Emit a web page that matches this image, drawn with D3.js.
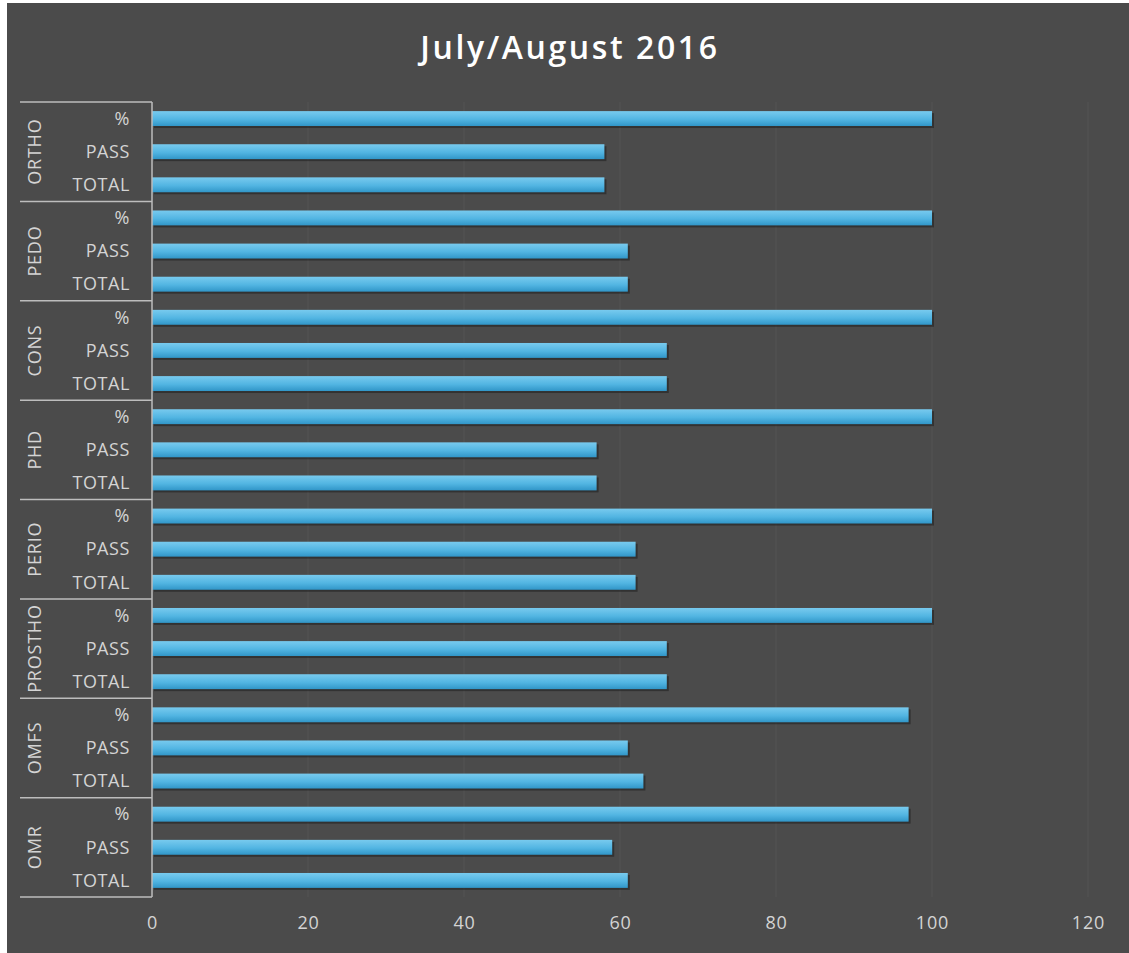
<!DOCTYPE html>
<html>
<head>
<meta charset="utf-8">
<script src="https://cdn.jsdelivr.net/npm/d3@7"></script>
<style>
  html, body { margin: 0; padding: 0; background: #fff; }
  svg { display: block; }
</style>
</head>
<body>
<svg id="chart"></svg>
<script>
var groups = ["ORTHO", "PEDO", "CONS", "PHD", "PERIO", "PROSTHO", "OMFS", "OMR"];
var metrics = ["%", "PASS", "TOTAL"];
var pctValues = [100, 100, 100, 100, 100, 100, 97, 97];
var passValues = [58, 61, 66, 57, 62, 66, 61, 59];
var totalValues = [58, 61, 66, 57, 62, 66, 63, 61];
var xTicks = [0, 20, 40, 60, 80, 100, 120];

var width = 1129, height = 953;
var plot = { left: 152, right: 1088, top: 102, bottom: 897 };

var data = [];
groups.forEach(function(g, i) {
    data.push({ group: g, metric: "%", value: pctValues[i] });
    data.push({ group: g, metric: "PASS", value: passValues[i] });
    data.push({ group: g, metric: "TOTAL", value: totalValues[i] });
});

var svg = d3.select("#chart")
    .attr("width", width)
    .attr("height", height);

// scanned page background
svg.append("rect")
    .attr("x", 7).attr("y", 3)
    .attr("width", width - 7).attr("height", height - 3)
    .attr("fill", "#4b4b4b");

var defs = svg.append("defs");
var grad = defs.append("linearGradient")
    .attr("id", "barGrad")
    .attr("x1", 0).attr("y1", 0).attr("x2", 0).attr("y2", 1);
grad.append("stop").attr("offset", "0%").attr("stop-color", "#78caee");
grad.append("stop").attr("offset", "55%").attr("stop-color", "#52b5e2");
grad.append("stop").attr("offset", "100%").attr("stop-color", "#3196c8");

var x = d3.scaleLinear().domain([0, 120]).range([plot.left, plot.right]);

var y0 = d3.scaleBand()
    .domain(groups)
    .range([plot.top, plot.bottom]);

var y1 = d3.scaleBand()
    .domain(metrics)
    .range([0, y0.bandwidth()])
    .paddingInner(0.55)
    .paddingOuter(0.275);

// faint vertical gridlines
svg.append("g")
    .selectAll("line")
    .data(xTicks.slice(1))
    .enter().append("line")
    .attr("x1", function(d) { return x(d); })
    .attr("x2", function(d) { return x(d); })
    .attr("y1", plot.top)
    .attr("y2", plot.bottom)
    .attr("stroke", "rgba(255,255,255,0.06)")
    .attr("stroke-width", 1);

// bar shadows
svg.append("g")
    .selectAll("rect")
    .data(data)
    .enter().append("rect")
    .attr("x", x(0) + 2)
    .attr("y", function(d) { return y0(d.group) + y1(d.metric) + 2; })
    .attr("width", function(d) { return x(d.value) - x(0); })
    .attr("height", y1.bandwidth())
    .attr("fill", "rgba(20,20,20,0.45)");

svg.append("g")
    .selectAll("rect")
    .data(data)
    .enter().append("rect")
    .attr("x", x(0))
    .attr("y", function(d) { return y0(d.group) + y1(d.metric); })
    .attr("width", function(d) { return x(d.value) - x(0); })
    .attr("height", y1.bandwidth())
    .attr("fill", "url(#barGrad)");

var labelColor = "#d4d4d4";
var lineColor = "#bdbdbd";

// category axis: vertical line + group separators
svg.append("line")
    .attr("x1", plot.left).attr("x2", plot.left)
    .attr("y1", plot.top).attr("y2", plot.bottom)
    .attr("stroke", lineColor).attr("stroke-width", 1.5);

var seps = groups.map(function(g) { return y0(g); }).concat([plot.bottom]);
svg.append("g")
    .selectAll("line")
    .data(seps)
    .enter().append("line")
    .attr("x1", 20).attr("x2", plot.left)
    .attr("y1", function(d) { return d; })
    .attr("y2", function(d) { return d; })
    .attr("stroke", lineColor).attr("stroke-width", 1.5);

// metric labels
svg.append("g")
    .selectAll("text")
    .data(data)
    .enter().append("text")
    .attr("x", 130)
    .attr("y", function(d) { return y0(d.group) + y1(d.metric) + y1.bandwidth() / 2; })
    .attr("dy", "0.35em")
    .attr("text-anchor", "end")
    .attr("fill", labelColor)
    .style("font-family", "'Open Sans', sans-serif")
    .style("font-size", "18px")
    .style("letter-spacing", "0.6px")
    .text(function(d) { return d.metric; });

// group labels, rotated
svg.append("g")
    .selectAll("text")
    .data(groups)
    .enter().append("text")
    .attr("transform", function(d) {
        return "translate(35," + (y0(d) + y0.bandwidth() / 2) + ") rotate(-90)";
    })
    .attr("dy", "0.35em")
    .attr("text-anchor", "middle")
    .attr("fill", labelColor)
    .style("font-family", "'Open Sans', sans-serif")
    .style("font-size", "18px")
    .style("letter-spacing", "0.8px")
    .text(function(d) { return d; });

// value axis
var xAxis = d3.axisBottom(x).tickValues(xTicks).tickSize(0).tickPadding(0);
var gx = svg.append("g")
    .attr("transform", "translate(0," + 916 + ")")
    .call(xAxis);
gx.select(".domain").remove();
gx.selectAll("text")
    .attr("fill", labelColor)
    .style("font-family", "'Open Sans', sans-serif")
    .style("font-size", "18px")
    .style("letter-spacing", "0.8px");

svg.append("text")
    .attr("x", 570)
    .attr("y", 59)
    .attr("text-anchor", "middle")
    .attr("fill", "#ffffff")
    .style("font-family", "'Open Sans', sans-serif")
    .style("font-weight", "600")
    .style("font-size", "32px")
    .style("letter-spacing", "2.6px")
    .text("July/August 2016");
</script>
</body>
</html>
